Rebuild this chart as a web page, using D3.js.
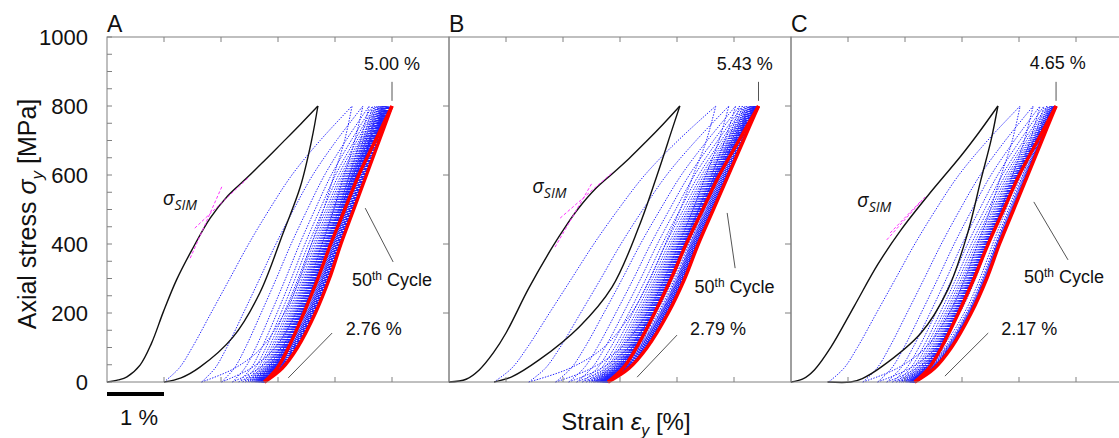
<!DOCTYPE html>
<html>
<head>
<meta charset="utf-8">
<script src="https://d3js.org/d3.v7.min.js"></script>
<style>
  body { margin: 0; background: #fff; }
  text { font-family: "Liberation Sans", Arial, sans-serif; fill: #111; }
</style>
</head>
<body>
<svg id="chart" width="1119" height="438"></svg>
<script>
// ---- data (strain in %, stress in MPa) ----
var stressTicks = [0, 200, 400, 600, 800, 1000];
var stressMinor = d3.range(0, 1001, 50);
var strainTicks = [1, 2, 3, 4, 5];
var panelNames = ["A", "B", "C"];
var peakLabels = ["5.00 %", "5.43 %", "4.65 %"];
var residualLabels = ["2.76 %", "2.79 %", "2.17 %"];

// first cycle (black), loading and unloading
var firstLoadA = [[0,0],[0.2,6],[0.35,15],[0.58,49],[0.78,112],[0.99,204],[1.22,296],[1.49,383],[1.81,475],[2.12,540],[2.45,591],[2.77,643],[3.09,696],[3.40,748],[3.70,800]];
var firstUnloadA = [[3.70,800],[3.59,701],[3.39,565],[3.09,432],[2.68,258],[2.21,130],[1.63,43],[1.30,12],[1.0,0]];
var firstLoadB = [[0,0],[0.3,8],[0.53,35],[0.78,85],[1.0,142],[1.40,272],[1.81,390],[2.05,452],[2.28,505],[2.57,560],[2.86,603],[3.16,648],[3.46,697],[3.76,748],[4.05,800]];
var firstUnloadB = [[4.05,800],[3.91,730],[3.68,614],[3.33,449],[2.86,275],[2.28,159],[1.58,64],[1.1,15],[0.79,0]];
var firstLoadC = [[0,0],[0.2,8],[0.41,35],[0.70,101],[1.11,220],[1.52,340],[1.93,441],[2.40,540],[2.98,655],[3.30,724],[3.63,800]];
var firstUnloadC = [[3.63,800],[3.51,701],[3.33,585],[3.10,432],[2.75,267],[2.28,142],[1.58,43],[1.25,10],[1.05,0],[0.64,0]];

// peak strain at 800 MPa and residual strain, cycles 1..50
var peaksA = [3.70,4.30,4.49,4.60,4.66,4.70,4.73,4.76,4.78,4.80,
  4.815,4.83,4.84,4.85,4.86,4.87,4.88,4.89,4.90,4.905,
  4.91,4.915,4.92,4.925,4.93,4.935,4.94,4.944,4.948,4.952,
  4.956,4.96,4.964,4.968,4.971,4.974,4.977,4.98,4.982,4.984,
  4.986,4.988,4.99,4.992,4.994,4.995,4.996,4.997,4.999,5.00];
var residualsA = [1.00,1.66,2.01,2.20,2.31,2.38,2.43,2.47,2.50,2.53,
  2.55,2.57,2.585,2.60,2.61,2.62,2.63,2.64,2.65,2.66,
  2.665,2.67,2.675,2.68,2.685,2.69,2.695,2.70,2.705,2.71,
  2.714,2.718,2.722,2.726,2.73,2.733,2.736,2.739,2.742,2.745,
  2.747,2.749,2.751,2.753,2.755,2.756,2.757,2.758,2.759,2.76];
var peaksB = [4.05,4.68,4.91,5.03,5.10,5.15,5.19,5.22,5.245,5.265,
  5.28,5.295,5.31,5.32,5.33,5.34,5.348,5.355,5.362,5.368,
  5.374,5.379,5.384,5.388,5.392,5.396,5.40,5.403,5.406,5.409,
  5.411,5.413,5.415,5.417,5.419,5.42,5.421,5.422,5.423,5.424,
  5.425,5.426,5.427,5.427,5.428,5.428,5.429,5.429,5.43,5.43];
var residualsB = [0.79,1.40,1.87,2.10,2.24,2.34,2.41,2.46,2.50,2.53,
  2.555,2.575,2.595,2.61,2.625,2.64,2.65,2.66,2.67,2.68,
  2.69,2.695,2.70,2.705,2.71,2.715,2.72,2.725,2.73,2.735,
  2.74,2.744,2.748,2.752,2.756,2.76,2.763,2.766,2.769,2.772,
  2.775,2.778,2.78,2.782,2.784,2.786,2.787,2.788,2.789,2.79];
var peaksC = [3.63,4.02,4.25,4.37,4.44,4.49,4.52,4.545,4.565,4.58,
  4.59,4.60,4.605,4.61,4.614,4.618,4.621,4.624,4.627,4.63,
  4.632,4.634,4.636,4.637,4.638,4.639,4.64,4.641,4.642,4.643,
  4.644,4.644,4.645,4.645,4.646,4.646,4.647,4.647,4.648,4.648,
  4.648,4.649,4.649,4.649,4.65,4.65,4.65,4.65,4.65,4.65];
var residualsC = [0.66,1.26,1.52,1.68,1.78,1.85,1.90,1.94,1.97,2.00,
  2.02,2.04,2.055,2.07,2.08,2.09,2.095,2.10,2.105,2.11,
  2.115,2.12,2.124,2.128,2.132,2.135,2.138,2.141,2.144,2.146,
  2.148,2.15,2.152,2.154,2.156,2.158,2.159,2.16,2.161,2.162,
  2.163,2.164,2.165,2.166,2.167,2.168,2.168,2.169,2.169,2.17];

// how far each cycle's shape still is from the settled one (1 = like the 1st cycle)
var shapeMix = [1,1,0.85,0.7,0.58,0.48,0.4,0.34,0.29,0.25,
  0.22,0.19,0.17,0.15,0.13,0.12,0.11,0.1,0.09,0.08,
  0.07,0.065,0.06,0.055,0.05,0.045,0.04,0.036,0.032,0.028,
  0.025,0.022,0.02,0.018,0.016,0.014,0.012,0.01,0.009,0.008,
  0.007,0.006,0.005,0.004,0.003,0.002,0.001,0,0,0];

// cycle shapes: fraction of the strain range at each stress level
var shapeStress = [0, 40, 100, 200, 300, 400, 500, 600, 700, 800];
var loadShape = [0, 0.10, 0.19, 0.31, 0.42, 0.52, 0.63, 0.74, 0.87, 1];      // 50th cycle
var unloadShape = [0, 0.14, 0.26, 0.40, 0.51, 0.60, 0.70, 0.80, 0.90, 1];    // 50th cycle
var earlyLoadShape = [0, 0.08, 0.15, 0.25, 0.35, 0.45, 0.56, 0.68, 0.83, 1]; // early cycles
var earlyUnloadShape = [0, 0.22, 0.40, 0.55, 0.65, 0.73, 0.81, 0.88, 0.95, 1];

// sigma_SIM tangent lines
var tangentsA = [[[1.46,359],[2.02,568]], [[1.54,446],[2.47,591]]];
var tangentsB = [[[1.86,391],[2.51,577]], [[1.95,475],[2.88,609]]];
var tangentsC = [[[1.68,412],[2.35,536]], [[1.74,432],[2.30,528]]];

// ---- layout ----
var panelLeft = [107, 449, 791];
var panelW = 342, plotTop = 37, plotBottom = 382;

// annotation spots, in data units of each panel
var notes = [
  { peakTick: [5.00, 870, 815], peakText: [5.0, 904], cyc: [[4.53,504],[5.02,348]], cycText: [5.0, 278],
    res: [[3.18,12],[3.95,142]], resText: [4.68, 136], sim: [0.98, 513] },
  { peakTick: [5.43, 870, 815], peakText: [5.19, 904], cyc: [[4.88,490],[5.02,330]], cycText: [5.01, 258],
    res: [[3.30,14],[4.0,136]], resText: [4.72, 136], sim: [1.46, 548] },
  { peakTick: [4.65, 870, 815], peakText: [4.68, 907], cyc: [[4.26,522],[4.86,354]], cycText: [4.79, 287],
    res: [[2.70,17],[3.46,142]], resText: [4.18, 136], sim: [1.16, 507] }
];

var panels = [
  { load: firstLoadA, unload: firstUnloadA, peaks: peaksA, res: residualsA, tan: tangentsA },
  { load: firstLoadB, unload: firstUnloadB, peaks: peaksB, res: residualsB, tan: tangentsB },
  { load: firstLoadC, unload: firstUnloadC, peaks: peaksC, res: residualsC, tan: tangentsC }
];

var svg = d3.select("#chart");
var y = d3.scaleLinear().domain([0, 1000]).range([plotBottom, plotTop]);

// curve of one cycle branch between a start strain and a peak strain
function cycleCurve(settled, early, mix, from, to) {
  return shapeStress.map(function (s, k) {
    var f = settled[k] * (1 - mix) + early[k] * mix;
    return [from + f * (to - from), s];
  });
}

panels.forEach(function (p, i) {
  var x = d3.scaleLinear().domain([0, 6]).range([panelLeft[i], panelLeft[i] + panelW]);
  var line = d3.line().x(function (d) { return x(d[0]); }).y(function (d) { return y(d[1]); })
    .curve(d3.curveCatmullRom.alpha(0.5));
  var g = svg.append("g");

  // cycles 2..49 (blue dotted)
  for (var n = 1; n < 49; n++) {
    g.append("path").attr("d", line(cycleCurve(loadShape, earlyLoadShape, shapeMix[n], p.res[n - 1], p.peaks[n])))
      .attr("fill", "none").attr("stroke", "#1f1fff").attr("stroke-width", 1).attr("stroke-dasharray", "1.4,1.4");
    g.append("path").attr("d", line(cycleCurve(unloadShape, earlyUnloadShape, shapeMix[n], p.res[n], p.peaks[n])))
      .attr("fill", "none").attr("stroke", "#1f1fff").attr("stroke-width", 1).attr("stroke-dasharray", "1.4,1.4");
  }

  // first cycle
  g.append("path").attr("d", line(p.load)).attr("fill", "none").attr("stroke", "#111").attr("stroke-width", 1.4);
  g.append("path").attr("d", line(p.unload)).attr("fill", "none").attr("stroke", "#111").attr("stroke-width", 1.4);

  // 50th cycle
  g.append("path").attr("d", line(cycleCurve(loadShape, earlyLoadShape, shapeMix[49], p.res[48], p.peaks[49])))
    .attr("fill", "none").attr("stroke", "#ff0000").attr("stroke-width", 3.4);
  g.append("path").attr("d", line(cycleCurve(unloadShape, earlyUnloadShape, shapeMix[49], p.res[49], p.peaks[49])))
    .attr("fill", "none").attr("stroke", "#ff0000").attr("stroke-width", 3.4);

  // sigma_SIM tangents
  p.tan.forEach(function (t) {
    g.append("path").attr("d", d3.line().x(function (d) { return x(d[0]); }).y(function (d) { return y(d[1]); })(t))
      .attr("stroke", "#ff33ff").attr("stroke-width", 1).attr("stroke-dasharray", "3,2").attr("fill", "none");
  });

  // frame and inward ticks
  g.append("rect").attr("x", x(0)).attr("y", plotTop).attr("width", panelW).attr("height", plotBottom - plotTop)
    .attr("fill", "none").attr("stroke", "#808080").attr("stroke-width", 1);
  strainTicks.forEach(function (t) {
    g.append("line").attr("x1", x(t)).attr("x2", x(t)).attr("y1", plotBottom).attr("y2", plotBottom - 5).attr("stroke", "#808080");
    g.append("line").attr("x1", x(t)).attr("x2", x(t)).attr("y1", plotTop).attr("y2", plotTop + 5).attr("stroke", "#808080");
  });
  stressTicks.slice(1, 5).forEach(function (t) {
    g.append("line").attr("x1", x(6)).attr("x2", x(6) - 6).attr("y1", y(t)).attr("y2", y(t)).attr("stroke", "#808080");
  });
  if (i === 0) {
    stressMinor.forEach(function (t) {
      g.append("line").attr("x1", x(0)).attr("x2", x(0) + 5).attr("y1", y(t)).attr("y2", y(t)).attr("stroke", "#808080");
    });
    stressTicks.forEach(function (t) {
      g.append("text").attr("x", 88).attr("y", y(t) + 8).attr("text-anchor", "end")
        .style("font-size", "22px").text(t);
    });
  }

  // panel letter
  g.append("text").attr("x", x(0)).attr("y", 32).style("font-size", "23px").text(panelNames[i]);

  // annotations
  var a = notes[i];
  g.append("line").attr("x1", x(a.peakTick[0])).attr("x2", x(a.peakTick[0]))
    .attr("y1", y(a.peakTick[1])).attr("y2", y(a.peakTick[2])).attr("stroke", "#555");
  g.append("text").attr("x", x(a.peakText[0])).attr("y", y(a.peakText[1])).attr("text-anchor", "middle")
    .style("font-size", "18px").text(peakLabels[i]);
  g.append("line").attr("x1", x(a.cyc[0][0])).attr("y1", y(a.cyc[0][1])).attr("x2", x(a.cyc[1][0])).attr("y2", y(a.cyc[1][1]))
    .attr("stroke", "#555");
  var ct = g.append("text").attr("x", x(a.cycText[0])).attr("y", y(a.cycText[1])).attr("text-anchor", "middle")
    .style("font-size", "18px");
  ct.append("tspan").text("50");
  ct.append("tspan").attr("dy", -6).style("font-size", "12px").text("th");
  ct.append("tspan").attr("dy", 6).text(" Cycle");
  g.append("line").attr("x1", x(a.res[0][0])).attr("y1", y(a.res[0][1])).attr("x2", x(a.res[1][0])).attr("y2", y(a.res[1][1]))
    .attr("stroke", "#555");
  g.append("text").attr("x", x(a.resText[0])).attr("y", y(a.resText[1])).attr("text-anchor", "middle")
    .style("font-size", "18px").text(residualLabels[i]);
  var st = g.append("text").attr("x", x(a.sim[0])).attr("y", y(a.sim[1])).style("font-size", "20px")
    .style("font-family", "'Open Sans', 'DejaVu Sans', sans-serif").style("font-style", "italic");
  st.append("tspan").text("σ");
  st.append("tspan").attr("dy", 5).style("font-size", "14px").text("SIM");
});

// y axis title
var yt = svg.append("text").attr("transform", "translate(36,214) rotate(-90)").attr("text-anchor", "middle")
  .style("font-size", "25px");
yt.append("tspan").text("Axial stress ");
yt.append("tspan").style("font-style", "italic").text("σ");
yt.append("tspan").attr("dy", 7).style("font-size", "17px").style("font-style", "italic").text("y");
yt.append("tspan").attr("dy", -7).text(" [MPa]");

// x axis title
var xt = svg.append("text").attr("x", 626).attr("y", 430).attr("text-anchor", "middle").style("font-size", "24px");
xt.append("tspan").text("Strain ");
xt.append("tspan").style("font-style", "italic").text("ε");
xt.append("tspan").attr("dy", 6).style("font-size", "16px").style("font-style", "italic").text("y");
xt.append("tspan").attr("dy", -6).text(" [%]");

// 1 % scale bar
var xs = d3.scaleLinear().domain([0, 6]).range([panelLeft[0], panelLeft[0] + panelW]);
svg.append("line").attr("x1", xs(0)).attr("x2", xs(1)).attr("y1", 394).attr("y2", 394)
  .attr("stroke", "#000").attr("stroke-width", 4);
svg.append("text").attr("x", 139).attr("y", 425).attr("text-anchor", "middle").style("font-size", "22px").text("1 %");
</script>
</body>
</html>
